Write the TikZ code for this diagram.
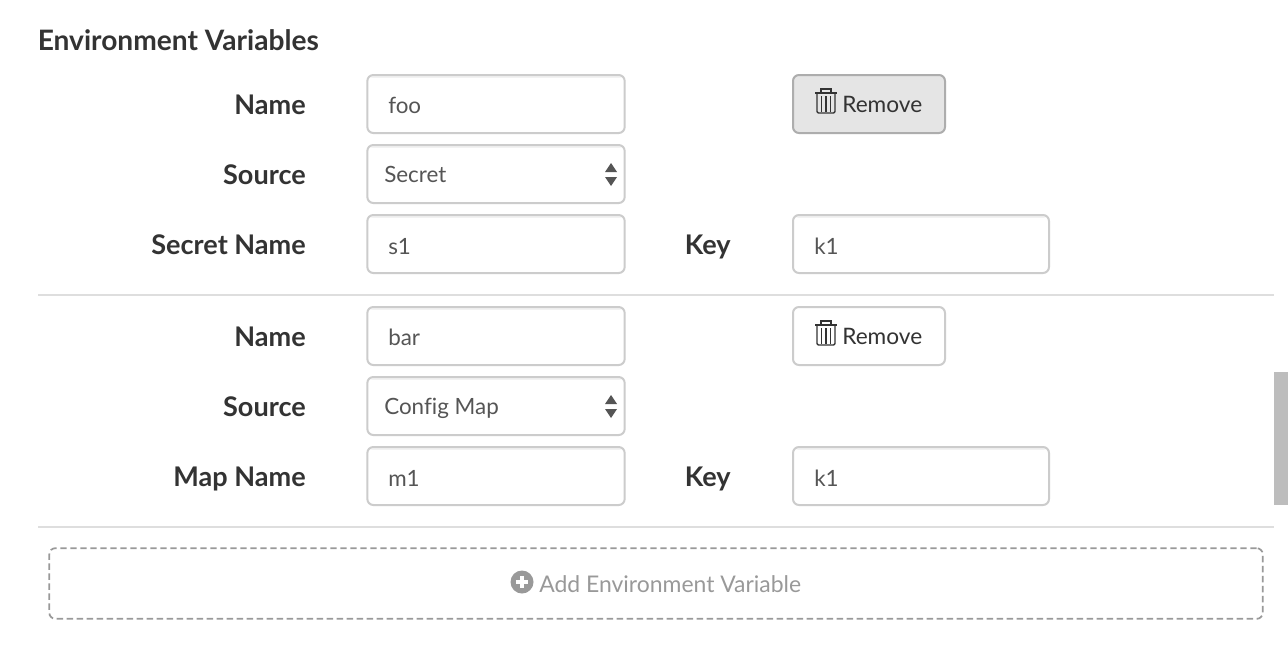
\documentclass[tikz,border=0pt]{standalone}
\usepackage{fontspec}
\setmainfont[Ligatures=NoCommon]{Lato}
\usepackage{tikz}
\definecolor{inkdark}{HTML}{333333}
\definecolor{inkfield}{HTML}{555555}
\definecolor{edgefield}{HTML}{CCCCCC}
\definecolor{edgepress}{HTML}{ADADAD}
\definecolor{inkadd}{HTML}{999999}
\tikzset{
  fieldlabel/.style={anchor=base east,inner sep=0.75pt,text=inkdark,font=\fontsize{20.3}{24}\selectfont\bfseries},
  buttonbox/.style={draw=edgefield,line width=1.5pt,rounded corners=4.5pt,fill=white,minimum height=43.5pt,inner sep=0pt},
  fieldbox/.style={buttonbox,path picture={\fill [black!5] (path picture bounding box.north west) rectangle ([yshift=-2.2pt]path picture bounding box.north east);}},
  fieldtext/.style={anchor=base west,inner sep=0.75pt,text=inkfield,font=\fontsize{16.8}{22}\selectfont},
  buttontext/.style={anchor=base west,inner sep=0.75pt,text=inkdark,font=\fontsize{17}{22}\selectfont},
  rule/.style={draw=black!13,line width=1.5pt},
}
\newcommand{\trashicon}[2]{%
  \draw [inkdark,line width=1.1pt] (#1-11,#2-10) -- (#1+11,#2-10);
  \draw [inkdark,line width=1.1pt] (#1-5,#2-10) -- (#1-5,#2-14) -- (#1+5,#2-14) -- (#1+5,#2-10);
  \draw [inkdark,line width=1.1pt,rounded corners=1pt] (#1-9,#2-10) -- (#1-9,#2+10) -- (#1+9,#2+10) -- (#1+9,#2-10);
  \foreach \barx in {-4.5,0,4.5} {\draw [inkdark,line width=1pt] (#1+\barx,#2-7) -- (#1+\barx,#2+9);}
}
\begin{document}
\begin{tikzpicture}[x=0.75pt,y=0.75pt,yscale=-1,xscale=1]
    \useasboundingbox (0,0) rectangle (1288,664);
    \fill [white] (0,0) rectangle (1288,664);

    % Heading
    \node (heading) at (36.5,50) [anchor=base west,inner sep=0.75pt,text=inkdark,font=\fontsize{21.1}{24}\selectfont\bfseries] {Environment Variables};

    % First variable
    \node (nameA) at (307,114.5) [fieldlabel] {Name};
    \node (sourceA) at (307,184.5) [fieldlabel] {Source};
    \node (secretA) at (307,254.5) [fieldlabel] {Secret Name};
    \node (keyA) at (732,254.5) [fieldlabel] {Key};
    \node (nameboxA) at (496,104) [fieldbox,minimum width=193pt] {};
    \node (sourceboxA) at (496,174) [fieldbox,minimum width=193pt] {};
    \node (secretboxA) at (496,244) [fieldbox,minimum width=193pt] {};
    \node (keyboxA) at (921,244) [fieldbox,minimum width=192pt] {};
    \node (removeA) at (869,104) [buttonbox,draw=edgepress,fill=black!10,minimum width=114pt] {};
    \node (nametextA) at (387,113) [fieldtext] {foo};
    \node (sourcetextA) at (383,182) [fieldtext] {Secret};
    \node (secrettextA) at (387,254) [fieldtext] {s1};
    \node (keytextA) at (813,254) [fieldtext] {k1};
    \node (removetextA) at (841,112) [buttontext] {Remove};
    \trashicon{826}{103}

    % Divider
    \draw [rule] (38,295) -- (1274,295);

    % Second variable
    \node (nameB) at (307,346.5) [fieldlabel] {Name};
    \node (sourceB) at (307,416.5) [fieldlabel] {Source};
    \node (mapB) at (307,486.5) [fieldlabel] {Map Name};
    \node (keyB) at (732,486.5) [fieldlabel] {Key};
    \node (nameboxB) at (496,336) [fieldbox,minimum width=193pt] {};
    \node (sourceboxB) at (496,406) [fieldbox,minimum width=193pt] {};
    \node (mapboxB) at (496,476) [fieldbox,minimum width=193pt] {};
    \node (keyboxB) at (921,476) [fieldbox,minimum width=192pt] {};
    \node (removeB) at (869,336) [buttonbox,minimum width=114pt] {};
    \node (nametextB) at (387,345) [fieldtext] {bar};
    \node (sourcetextB) at (383,414) [fieldtext] {Config Map};
    \node (maptextB) at (387,486) [fieldtext] {m1};
    \node (keytextB) at (813,486) [fieldtext] {k1};
    \node (removetextB) at (841,344) [buttontext] {Remove};
    \trashicon{826}{335}

    % Select arrows
    \foreach \arrowy in {174,406} {
      \fill [inkfield] (605,\arrowy-2) -- (617,\arrowy-2) -- (611,\arrowy-11) -- cycle;
      \fill [inkfield] (605,\arrowy+3) -- (617,\arrowy+3) -- (611,\arrowy+12) -- cycle;
    }

    % Divider
    \draw [rule] (38,527) -- (1274,527);

    % Add button
    \node (addbox) at (656,583.5) [draw=inkadd,line width=1.3pt,dash pattern=on 4.8pt off 2.7pt,rounded corners=4.5pt,minimum width=910pt,minimum height=53pt,inner sep=0pt] {};
    \fill [inkadd] (522,582) circle [radius=11.5];
    \fill [white] (516,580) rectangle (528,584);
    \fill [white] (520,576) rectangle (524,588);
    \node (addtext) at (538,592) [anchor=base west,inner sep=0.75pt,text=inkadd,font=\fontsize{17.2}{22}\selectfont] {Add Environment Variable};

    % Scroll bar
    \fill [black!26] (1274,372) rectangle (1288,505);
\end{tikzpicture}
\end{document}
